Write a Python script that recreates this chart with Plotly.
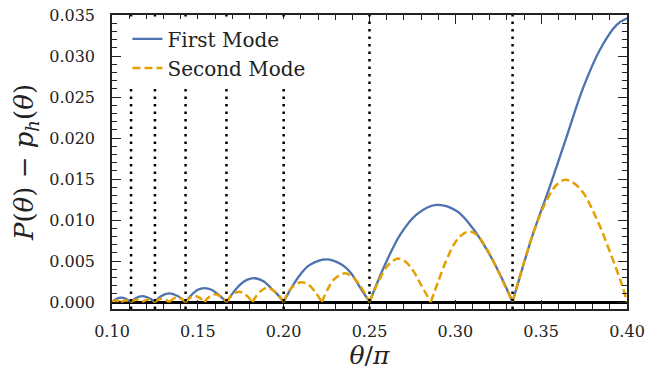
import plotly.graph_objects as go

# ---- data (None separates the arches) ----
first_x = [0.1000, 0.1025, 0.1053, 0.1083, 0.1111, None,
           0.1111, 0.1140, 0.1176, 0.1215, 0.1250, None,
           0.1250, 0.1285, 0.1333, 0.1385, 0.1429, None,
           0.1429, 0.1460, 0.1500, 0.1538, 0.1580, 0.1620, 0.1667, None,
           0.1667, 0.1700, 0.1745, 0.1785, 0.1833, 0.1885, 0.1935, 0.1965, 0.2000, None,
           0.2000, 0.2050, 0.2095, 0.2150, 0.2251, 0.2335, 0.2386, 0.2445, 0.2500, None,
           0.2500, 0.2550, 0.2600, 0.2678, 0.2775, 0.2891, 0.3008, 0.3105, 0.3202, 0.3280, 0.3333, None,
           0.3333, 0.3454, 0.3551, 0.3649, 0.3746, 0.3843, 0.3940, 0.4000]
first_y = [0.0, 0.00037, 0.00053, 0.00037, 0.0, None,
           0.0, 0.00050, 0.00073, 0.00050, 0.0, None,
           0.0, 0.00070, 0.00106, 0.00070, 0.0, None,
           0.0, 0.00080, 0.00150, 0.00170, 0.00150, 0.00090, 0.0, None,
           0.0, 0.00100, 0.00210, 0.00270, 0.00290, 0.00250, 0.00150, 0.00090, 0.0, None,
           0.0, 0.00190, 0.00330, 0.00450, 0.00520, 0.00460, 0.00370, 0.00180, 0.0, None,
           0.0, 0.00260, 0.00500, 0.00820, 0.01070, 0.01185, 0.01110, 0.00890, 0.00570, 0.00250, 0.0, None,
           0.0, 0.00840, 0.01410, 0.02020, 0.02620, 0.03080, 0.03380, 0.03460]

second_x = [0.1000, 0.1026, 0.1053, None,
            0.1053, 0.1081, 0.1111, None,
            0.1111, 0.1143, 0.1176, None,
            0.1176, 0.1212, 0.1250, None,
            0.1250, 0.1290, 0.1333, None,
            0.1333, 0.1379, 0.1429, None,
            0.1429, 0.1455, 0.1481, 0.1509, 0.1538, None,
            0.1538, 0.1569, 0.1600, 0.1633, 0.1667, None,
            0.1667, 0.1702, 0.1739, 0.1778, 0.1818, None,
            0.1818, 0.1861, 0.1905, 0.1951, 0.2000, None,
            0.2000, 0.2030, 0.2065, 0.2105, 0.2145, 0.2185, 0.2222, None,
            0.2222, 0.2255, 0.2295, 0.2357, 0.2405, 0.2455, 0.2500, None,
            0.2500, 0.2550, 0.2600, 0.2635, 0.2668, 0.2710, 0.2755, 0.2800, 0.2857, None,
            0.2857, 0.2900, 0.2950, 0.3000, 0.3045, 0.3085, 0.3130, 0.3180, 0.3230, 0.3280, 0.3333, None,
            0.3333, 0.3454, 0.3532, 0.3590, 0.3639, 0.3690, 0.3746, 0.3795, 0.3843, 0.3890, 0.3940, 0.3975, 0.4000]
second_y = [0.0, 0.00020, 0.0, None,
            0.0, 0.00022, 0.0, None,
            0.0, 0.00027, 0.0, None,
            0.0, 0.00032, 0.0, None,
            0.0, 0.00042, 0.0, None,
            0.0, 0.00060, 0.0, None,
            0.0, 0.00053, 0.00075, 0.00053, 0.0, None,
            0.0, 0.00067, 0.00095, 0.00067, 0.0, None,
            0.0, 0.00088, 0.00125, 0.00088, 0.0, None,
            0.0, 0.00124, 0.00175, 0.00124, 0.0, None,
            0.0, 0.00130, 0.00210, 0.00240, 0.00210, 0.00120, 0.0, None,
            0.0, 0.00150, 0.00280, 0.00350, 0.00300, 0.00170, 0.0, None,
            0.0, 0.00240, 0.00430, 0.00500, 0.00530, 0.00490, 0.00380, 0.00210, 0.0, None,
            0.0, 0.00250, 0.00520, 0.00730, 0.00830, 0.00860, 0.00810, 0.00660, 0.00460, 0.00240, 0.0, None,
            0.0, 0.00840, 0.01240, 0.01430, 0.01490, 0.01450, 0.01330, 0.01140, 0.00920, 0.00670, 0.00390, 0.00180, 0.0]

resonances = [1/9, 1/8, 1/7, 1/6, 1/5, 1/4, 1/3]
series_names = ["First Mode", "Second Mode"]
x_ticks = [0.10, 0.15, 0.20, 0.25, 0.30, 0.35, 0.40]
y_ticks = [0.000, 0.005, 0.010, 0.015, 0.020, 0.025, 0.030, 0.035]

BLUE = "#4C72B0"
ORANGE = "#E69F00"
FONT = "DejaVu Serif"
INK = "#222222"

fig = go.Figure()
fig.add_trace(go.Scatter(x=first_x, y=first_y, mode="lines", name=series_names[0],
                         line=dict(color=BLUE, width=2.3, shape="spline", smoothing=1.0),
                         connectgaps=False))
fig.add_trace(go.Scatter(x=second_x, y=second_y, mode="lines", name=series_names[1],
                         line=dict(color=ORANGE, width=2.5, dash="8px,4px", shape="spline", smoothing=1.0),
                         connectgaps=False))

for r in resonances:
    fig.add_vline(x=r, line=dict(color="black", width=2.5, dash="2.5px,5px"), layer="above")

axis_common = dict(showline=True, linecolor=INK, linewidth=1.5, mirror="allticks",
                   ticks="inside", ticklen=9, tickwidth=1.1, tickcolor=INK,
                   showgrid=False, tickfont=dict(family=FONT, size=16, color=INK))

fig.update_xaxes(range=[0.1, 0.4], tickvals=x_ticks, tickformat=".2f",
                 minor=dict(ticks="inside", ticklen=5, tickwidth=1, tickcolor=INK, dtick=0.01, tick0=0.1, showgrid=False),
                 zeroline=False, ticklabelstandoff=7,
                 title=dict(text="<i>θ</i>/<i>π</i>", font=dict(family=FONT, size=25, color=INK), standoff=4),
                 **axis_common)
fig.update_yaxes(range=[-0.00085, 0.035], tickvals=y_ticks, tickformat=".3f",
                 minor=dict(ticks="inside", ticklen=5, tickwidth=1, tickcolor=INK, dtick=0.001, tick0=0, showgrid=False),
                 zeroline=True, zerolinecolor="black", zerolinewidth=2.7, ticklabelstandoff=12,
                 title=dict(text="<i>P</i>(<i>θ</i>) − <i>p</i><sub><i>h</i></sub>(<i>θ</i>)",
                            font=dict(family=FONT, size=26, color=INK), standoff=8),
                 **axis_common)

fig.update_layout(
    width=659, height=373,
    margin=dict(l=112, r=32, t=15, b=64, autoexpand=False),
    plot_bgcolor="white", paper_bgcolor="white",
    showlegend=True,
    legend=dict(x=0.03, y=0.985, xanchor="left", yanchor="top", bgcolor="white",
                borderwidth=0, font=dict(family=FONT, size=20, color=INK),
                itemwidth=30, tracegroupgap=0),
)

fig.write_html("out.html")
